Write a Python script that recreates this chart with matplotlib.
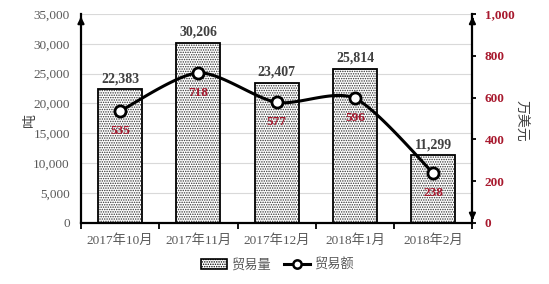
import numpy as np
import matplotlib
matplotlib.use("Agg")
import matplotlib.pyplot as plt
from matplotlib.patches import Patch
from matplotlib.lines import Line2D

months = ["2017年10月", "2017年11月", "2017年12月", "2018年1月", "2018年2月"]
volume = [22383, 30206, 23407, 25814, 11299]
amount = [535, 718, 577, 596, 238]
left_ticks = [0, 5000, 10000, 15000, 20000, 25000, 30000, 35000]
right_ticks = [0, 200, 400, 600, 800, 1000]

FAM = ['Liberation Serif', 'Noto Sans CJK SC']
plt.rcParams['font.family'] = FAM
plt.rcParams['hatch.linewidth'] = 0.7

RED = '#A8192E'
GRAY = '#595959'

fig = plt.figure(figsize=(5.49, 2.84), dpi=100)
ax = fig.add_axes([0.1475, 0.215, 0.713, 0.736])
ax2 = ax.twinx()

x = np.arange(len(months))
w = 0.56
ax.bar(x, volume, width=w, facecolor='white', edgecolor='#333333', hatch='.......', linewidth=0, zorder=2)
ax.bar(x, volume, width=w, fill=False, edgecolor='black', linewidth=1.3, zorder=3)
for xi, v in zip(x, volume):
    ax.text(xi, v + 700, f"{v:,}", ha='center', va='bottom', fontsize=10, fontweight='bold', color='#404040')

ax.set_xlim(-0.5, len(months) - 0.5)
ax.set_ylim(0, 35000)
ax.set_yticks(left_ticks)
ax.set_yticklabels([f"{t:,}" for t in left_ticks], fontsize=9.5, color=GRAY)
ax.tick_params(axis='y', length=0, pad=8)
ax.grid(axis='y', color='#d9d9d9', linewidth=0.8, zorder=0)
ax.set_axisbelow(True)
ax.set_xticks(x)
ax.set_xticklabels(months, fontsize=9.5, color=GRAY)
ax.set_xticks(np.arange(-0.5, len(months)), minor=True)
ax.tick_params(axis='x', which='major', length=0, pad=8)
ax.tick_params(axis='x', which='minor', length=4, width=1.3, direction='out')
for s in ['top', 'right']:
    ax.spines[s].set_visible(False)
ax.spines['left'].set_linewidth(1.6)
ax.spines['bottom'].set_linewidth(1.6)
ax.set_ylabel("吨", fontsize=10, color='#404040', va='center', ha='center')
ax.yaxis.set_label_coords(-0.13, 0.49)

# smooth line (Catmull-Rom style curve through the points)
def smooth(xs, ys, n=30, t=0.4):
    xs = np.asarray(xs, float); ys = np.asarray(ys, float)
    px, py = [], []
    for i in range(len(xs) - 1):
        i0 = max(i - 1, 0); i3 = min(i + 2, len(xs) - 1)
        m1x = t * (xs[i + 1] - xs[i0]); m1y = t * (ys[i + 1] - ys[i0])
        m2x = t * (xs[i3] - xs[i]); m2y = t * (ys[i3] - ys[i])
        s = np.linspace(0, 1, n)
        h00 = 2 * s**3 - 3 * s**2 + 1; h10 = s**3 - 2 * s**2 + s
        h01 = -2 * s**3 + 3 * s**2; h11 = s**3 - s**2
        px.append(h00 * xs[i] + h10 * m1x + h01 * xs[i + 1] + h11 * m2x)
        py.append(h00 * ys[i] + h10 * m1y + h01 * ys[i + 1] + h11 * m2y)
    return np.concatenate(px), np.concatenate(py)

sx, sy = smooth(x, amount)
ax2.plot(sx, sy, color='black', linewidth=2.2, zorder=4)
ax2.plot(x, amount, linestyle='none', marker='o', markersize=8, markerfacecolor='white',
         markeredgecolor='black', markeredgewidth=2, zorder=5)
for xi, v in zip(x, amount):
    ax2.text(xi, v - 95, f"{v}", ha='center', va='center', fontsize=9.5, fontweight='bold', color=RED)

ax2.set_ylim(0, 1000)
ax2.set_yticks(right_ticks)
ax2.set_yticklabels([f"{t:,}" for t in right_ticks], fontsize=9.5, color=RED, fontweight='bold')
ax2.tick_params(axis='y', length=3, width=1.3, direction='out', pad=6)
for s in ['top', 'left', 'bottom']:
    ax2.spines[s].set_visible(False)
ax2.spines['right'].set_linewidth(1.6)
ax2.set_ylabel("万美元", fontsize=10, color='#404040', rotation=-90, va='center', ha='center')
ax2.yaxis.set_label_coords(1.123, 0.49)

# arrows on the spines
ax.annotate('', xy=(0, 1.0), xytext=(0, 0.96), xycoords='axes fraction',
            arrowprops=dict(arrowstyle='-|>', color='black', lw=1.6, mutation_scale=9))
ax2.annotate('', xy=(1, 1.0), xytext=(1, 0.96), xycoords='axes fraction',
             arrowprops=dict(arrowstyle='-|>', color='black', lw=1.6, mutation_scale=9))
ax2.annotate('', xy=(1, 0.0), xytext=(1, 0.04), xycoords='axes fraction',
             arrowprops=dict(arrowstyle='-|>', color='black', lw=1.6, mutation_scale=9))

handles = [Patch(facecolor='white', edgecolor='black', hatch='.......', linewidth=1.2),
           Line2D([0], [0], color='black', lw=2.2, marker='o', markersize=6,
                  markerfacecolor='white', markeredgecolor='black', markeredgewidth=1.8)]
fig.legend(handles, ["贸易量", "贸易额"], loc='center', bbox_to_anchor=(0.505, 0.067), ncol=2,
           frameon=False, fontsize=9.5, labelcolor=GRAY, handlelength=2.0, columnspacing=1.0,
           handletextpad=0.3)

fig.savefig("out.png", dpi=100)
